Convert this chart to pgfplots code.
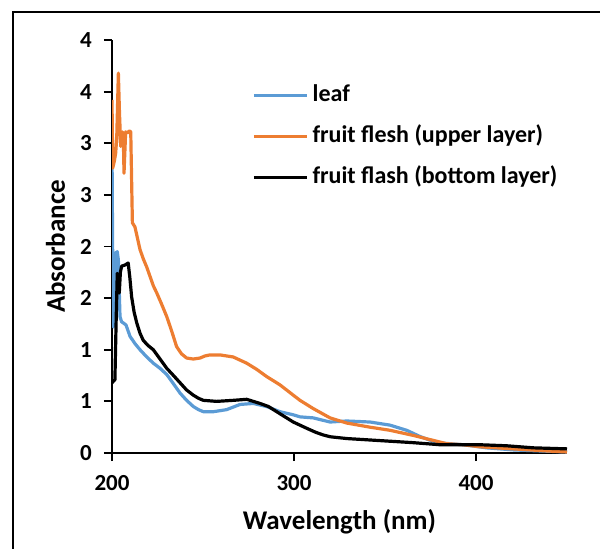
\documentclass[border=0pt]{standalone}
\usepackage{pgfplots}
\pgfplotsset{compat=1.18}
\usepackage{fontspec}
\setmainfont{Carlito}
\definecolor{leafblue}{HTML}{5B9BD5}
\definecolor{fleshorange}{HTML}{ED7D31}
\begin{document}
\begin{tikzpicture}[x=1pt,y=1pt]
\useasboundingbox (0,0) rectangle (600,549);
\draw[line width=2pt] (13,-5) -- (13,537) -- (605,537);
\begin{axis}[
  at={(112pt,96pt)}, anchor=south west,
  scale only axis, width=455pt, height=413pt,
  xmin=200, xmax=450, ymin=0, ymax=4,
  axis lines=left,
  axis line style={line width=1.8pt, -},
  tick align=outside, major tick length=8pt,
  tick style={line width=1.8pt, black},
  xtick={200,300,400},
  ytick={0,0.5,1,1.5,2,2.5,3,3.5,4},
  yticklabels={0,1,1,2,2,3,3,4,4},
  /pgf/number format/assume math mode=true,
  every tick label/.append style={font=\fontsize{23}{27}\selectfont\bfseries, inner sep=0pt},
  xticklabel style={yshift=-14pt},
  yticklabel style={xshift=-12pt},
  xlabel={Wavelength (nm)},
  ylabel={Absorbance},
  xlabel style={font=\fontsize{27}{31}\selectfont\bfseries, at={(axis description cs:0.5,-0.1864)}, anchor=base},
  ylabel style={font=\fontsize{27}{31}\selectfont\bfseries, at={(axis description cs:-0.1033,0.5)}, anchor=base, rotate=0},
  legend style={at={(axis description cs:0.3011,0.8983)}, anchor=north west, draw=none, fill=none,
    font=\fontsize{24}{28}\selectfont\bfseries, row sep=18.5pt, column sep=4pt,
    nodes={inner sep=0pt, text height=17.5pt, text depth=5pt}},
  legend cell align=left,
  legend image code/.code={\draw[#1, line width=3.4pt] (0pt,0pt) -- (53pt,0pt);},
  every axis plot/.append style={line width=3.2pt, line join=round},
]
\addplot[leafblue] table {
200.0 2.95
200.3 2.10
200.7 1.22
201.4 1.40
202.2 1.94
202.9 1.95
203.5 1.87
204.4 1.32
205.3 1.27
206.2 1.26
207.7 1.24
209.9 1.13
212.6 1.06
215.4 1.00
219.1 0.93
222.7 0.87
226.4 0.82
230.1 0.76
233.8 0.67
237.4 0.58
241.0 0.51
244.7 0.45
247.5 0.42
250.2 0.40
255.7 0.40
263.0 0.42
270.3 0.47
277.6 0.48
285.0 0.45
292.3 0.40
299.6 0.37
303.3 0.35
310.6 0.34
319.8 0.30
329.0 0.31
341.8 0.30
352.7 0.27
361.9 0.22
369.2 0.16
378.4 0.10
393.0 0.08
405.9 0.05
420.5 0.03
450.0 0.01
};
\addlegendentry{leaf}
\addplot[fleshorange] table {
200.0 3.42
200.4 2.76
201.2 2.82
202.0 2.90
202.6 3.05
203.5 3.68
204.1 3.30
204.8 2.97
205.7 3.11
206.2 3.08
206.6 2.71
207.5 3.11
208.5 3.10
209.5 3.12
210.3 3.11
211.2 2.23
212.6 2.19
214.0 2.08
215.4 1.97
217.2 1.88
219.1 1.80
220.9 1.71
222.7 1.62
224.6 1.55
227.3 1.44
230.1 1.32
232.8 1.18
235.5 1.03
238.2 0.96
241.0 0.92
244.7 0.91
248.4 0.92
251.1 0.94
253.8 0.95
259.3 0.95
266.6 0.93
274.0 0.87
279.5 0.81
285.0 0.74
292.3 0.66
299.6 0.56
303.3 0.51
310.6 0.43
319.8 0.34
329.0 0.29
341.8 0.25
352.7 0.22
365.6 0.17
374.7 0.13
383.9 0.09
393.0 0.08
402.2 0.06
420.5 0.04
438.8 0.02
450.0 0.01
};
\addlegendentry{fruit flesh (upper layer)}
\addplot[black] table {
200.0 0.68
201.0 0.70
201.6 0.71
202.3 1.30
202.9 1.74
203.5 1.70
204.0 1.55
204.6 1.75
205.3 1.81
207.1 1.82
208.9 1.84
209.8 1.70
210.8 1.51
212.2 1.36
213.6 1.26
215.4 1.16
217.2 1.09
219.9 1.04
222.7 1.00
226.4 0.91
230.1 0.82
233.8 0.75
237.4 0.68
241.0 0.61
244.7 0.56
247.5 0.53
250.2 0.51
257.5 0.50
266.6 0.51
274.0 0.52
281.3 0.48
286.0 0.45
292.3 0.38
299.6 0.30
306.9 0.24
312.0 0.20
316.0 0.175
320.0 0.157
329.0 0.14
347.3 0.12
365.6 0.10
380.2 0.08
402.2 0.08
416.8 0.07
431.5 0.05
450.0 0.04
};
\addlegendentry{fruit flash (bottom layer)}
\end{axis}
\end{tikzpicture}
\end{document}
